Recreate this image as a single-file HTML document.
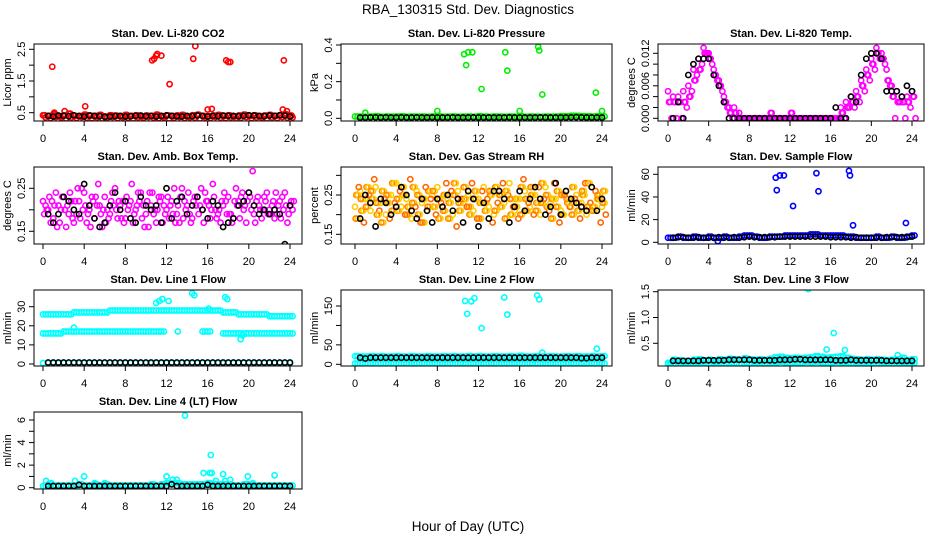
<!DOCTYPE html>
<html><head><meta charset="utf-8"><style>
html,body{margin:0;padding:0;background:#fff;}
svg{display:block;font-family:"Liberation Sans",sans-serif;}
</style></head><body>
<svg id="chart" width="936" height="540" viewBox="0 0 936 540" xmlns="http://www.w3.org/2000/svg">
<text x="468" y="14" font-size="13.5" text-anchor="middle">RBA_130315  Std. Dev. Diagnostics</text>
<text x="468" y="531" font-size="13.5" text-anchor="middle">Hour of Day (UTC)</text>
</svg>
<script>
// ---- time grids (hours) ----
const T49 = [0,0.5,1,1.5,2,2.5,3,3.5,4,4.5,5,5.5,6,6.5,7,7.5,8,8.5,9,9.5,10,10.5,11,11.5,12,12.5,13,13.5,14,14.5,15,15.5,16,16.5,17,17.5,18,18.5,19,19.5,20,20.5,21,21.5,22,22.5,23,23.5,24];
const T48 = [0.5,1,1.5,2,2.5,3,3.5,4,4.5,5,5.5,6,6.5,7,7.5,8,8.5,9,9.5,10,10.5,11,11.5,12,12.5,13,13.5,14,14.5,15,15.5,16,16.5,17,17.5,18,18.5,19,19.5,20,20.5,21,21.5,22,22.5,23,23.5,24];
const xTicks = [0,4,8,12,16,20,24];

// ---- CO2 ----
const co2A = [0.42,0.40,0.45,0.38,0.42,0.47,0.40,0.39,0.44,0.41,0.40,0.43,0.38,0.42,0.41,0.39,0.43,0.40,0.42,0.38,0.41,0.40,0.44,0.39,0.42,0.40,0.41,0.43,0.38,0.42,0.44,0.40,0.39,0.41,0.43,0.40,0.42,0.38,0.41,0.44,0.40,0.42,0.39,0.41,0.43,0.40,0.42,0.45,0.41];
const co2B = [0.35,0.33,0.36,0.34,0.32,0.35,0.33,0.36,0.34,0.33,0.35,0.32,0.34,0.36,0.33,0.35,0.34,0.32,0.35,0.33,0.36,0.34,0.33,0.35,0.32,0.34,0.36,0.33,0.35,0.34,0.32,0.35,0.33,0.36,0.34,0.33,0.35,0.32,0.34,0.36,0.33,0.35,0.34,0.32,0.35,0.33,0.36,0.34,0.35];
const co2OutT = [0.9,1.1,2.1,4.1,10.6,10.8,11.0,11.1,11.5,12.3,14.6,14.8,16.0,16.4,17.8,18.0,18.2,23.3,23.4,23.7];
const co2OutV = [1.95,0.5,0.55,0.7,2.15,2.2,2.3,2.35,2.3,1.4,2.2,2.6,0.6,0.62,2.15,2.1,2.1,0.6,2.15,0.55];
const co2K = [0.40,0.38,0.41,0.40,0.39,0.42,0.40,0.38,0.41,0.40,0.39,0.37,0.38,0.39,0.40,0.38,0.39,0.40,0.41,0.39,0.40,0.38,0.40,0.41,0.40,0.39,0.38,0.40,0.39,0.41,0.40,0.38,0.40,0.39,0.41,0.40,0.40,0.39,0.40,0.42,0.41,0.40,0.39,0.41,0.40,0.42,0.41,0.38];

// ---- Pressure ----
const presA = [0.01,0.01,0.008,0.01,0.012,0.008,0.01,0.009,0.01,0.011,0.008,0.01,0.009,0.01,0.008,0.01,0.012,0.008,0.009,0.01,0.008,0.009,0.01,0.008,0.012,0.009,0.008,0.01,0.009,0.008,0.01,0.009,0.011,0.008,0.01,0.009,0.008,0.01,0.009,0.01,0.012,0.011,0.014,0.013,0.012,0.011,0.01,0.012,0.01];
const presOutT = [1.0,8.0,10.6,10.8,11.0,11.4,12.3,14.6,14.8,16.0,17.8,17.9,18.2,23.4,24.0];
const presOutV = [0.03,0.04,0.35,0.29,0.36,0.36,0.16,0.36,0.26,0.04,0.39,0.37,0.13,0.14,0.04];
const presK = [0.004,0.004,0.005,0.005,0.004,0.005,0.004,0.004,0.005,0.004,0.004,0.005,0.004,0.004,0.005,0.004,0.004,0.004,0.005,0.004,0.004,0.004,0.005,0.004,0.004,0.004,0.004,0.004,0.004,0.005,0.004,0.004,0.004,0.004,0.004,0.005,0.004,0.004,0.004,0.004,0.004,0.005,0.006,0.005,0.004,0.004,0.004,0.004];

// ---- Li-820 Temp ----
const tmpA = [0.005,0.004,0.004,0.005,0.006,0.009,0.011,0.013,0.012,0.009,0.007,0.004,0.002,0.002,0.001,0,0,0,0,0,0,0,0,0,0,0,0,0,0,0,0,0,0,0,0.002,0.003,0.004,0.005,0.007,0.009,0.011,0.013,0.012,0.009,0.006,0.005,0.004,0.004,0.005];
const tmpB = [0.003,0.003,0.003,0.003,0.004,0.007,0.009,0.012,0.011,0.008,0.006,0.003,0.001,0.001,0,0,0,0,0,0,0.001,0,0,0,0.001,0,0,0,0,0,0,0,0,0,0.001,0.002,0.003,0.004,0.006,0.008,0.010,0.012,0.011,0.007,0.004,0.003,0.003,0.003,0.004];
const tmpC = [0,0,0,0.002,0.005,0.008,0.010,0.012,0.010,0.007,0.005,0.002,0,0,0,0,0,0,0,0,0,0,0,0,0,0,0,0,0,0,0,0,0,0,0,0.002,0.002,0.003,0.005,0.007,0.009,0.011,0.010,0.006,0,0.003,0,0.002,0];
const tmpK = [0,0.003,0,0.008,0.010,0.011,0.011,0.011,0.008,0.006,0.003,0,0,0,0,0,0,0,0,0,0,0,0,0,0,0,0,0,0,0,0,0,0.002,0,0,0.004,0.003,0.008,0.011,0.012,0.012,0.011,0.005,0.005,0.005,0.004,0.006,0.005];

// ---- Amb Box Temp ----
const amb1 = [0.22,0.20,0.18,0.21,0.23,0.19,0.17,0.22,0.24,0.20,0.18,0.21,0.23,0.19,0.25,0.21,0.18,0.22,0.20,0.24,0.19,0.21,0.17,0.23,0.20,0.22,0.19,0.25,0.21,0.18,0.23,0.20,0.22,0.26,0.19,0.21,0.23,0.18,0.22,0.20,0.24,0.19,0.21,0.23,0.20,0.18,0.22,0.24,0.21];
const amb2 = [0.19,0.23,0.21,0.17,0.20,0.24,0.22,0.18,0.21,0.16,0.23,0.19,0.17,0.22,0.20,0.18,0.23,0.26,0.21,0.18,0.22,0.24,0.20,0.17,0.23,0.19,0.21,0.18,0.24,0.22,0.19,0.17,0.21,0.23,0.20,0.24,0.19,0.22,0.18,0.21,0.23,0.17,0.20,0.22,0.19,0.24,0.18,0.21,0.22];
const amb3 = [0.21,0.17,0.24,0.20,0.16,0.22,0.19,0.25,0.17,0.23,0.21,0.16,0.20,0.24,0.18,0.22,0.20,0.17,0.24,0.21,0.16,0.19,0.23,0.21,0.18,0.25,0.17,0.22,0.19,0.23,0.21,0.24,0.18,0.20,0.17,0.22,0.19,0.25,0.23,0.17,0.20,0.22,0.18,0.24,0.21,0.19,0.23,0.17,0.20];
const amb4 = [0.20,0.22,0.16,0.23,0.21,0.18,0.25,0.20,0.19,0.22,0.26,0.20,0.18,0.21,0.22,0.17,0.21,0.19,0.22,0.16,0.24,0.20,0.22,0.19,0.21,0.17,0.23,0.20,0.17,0.21,0.25,0.22,0.20,0.18,0.22,0.19,0.17,0.21,0.24,0.22,0.29,0.23,0.20,0.19,0.22,0.21,0.20,0.19,0.22];
const ambK = [0.19,0.17,0.19,0.23,0.22,0.20,0.19,0.26,0.21,0.18,0.16,0.17,0.21,0.24,0.20,0.22,0.18,0.17,0.23,0.21,0.20,0.21,0.17,0.25,0.18,0.22,0.23,0.19,0.21,0.23,0.20,0.18,0.22,0.21,0.16,0.17,0.18,0.21,0.22,0.24,0.21,0.19,0.20,0.19,0.20,0.19,0.12,0.21];

// ---- Gas Stream RH ----
const rh1 = [0.22,0.26,0.24,0.21,0.27,0.23,0.20,0.25,0.28,0.22,0.24,0.19,0.26,0.23,0.21,0.25,0.27,0.22,0.24,0.20,0.26,0.23,0.25,0.21,0.24,0.27,0.22,0.20,0.25,0.23,0.28,0.21,0.24,0.26,0.22,0.25,0.20,0.27,0.23,0.24,0.21,0.26,0.22,0.25,0.23,0.20,0.27,0.24,0.22];
const rh2 = [0.25,0.21,0.27,0.24,0.20,0.26,0.23,0.28,0.21,0.25,0.22,0.27,0.20,0.24,0.26,0.22,0.19,0.25,0.23,0.28,0.21,0.24,0.20,0.26,0.23,0.21,0.25,0.27,0.22,0.26,0.20,0.24,0.27,0.21,0.25,0.23,0.28,0.22,0.24,0.26,0.20,0.23,0.27,0.21,0.25,0.28,0.22,0.24,0.26];
const rh3 = [0.19,0.24,0.22,0.26,0.23,0.18,0.25,0.21,0.24,0.27,0.20,0.23,0.25,0.18,0.22,0.26,0.24,0.21,0.19,0.25,0.23,0.27,0.22,0.24,0.19,0.23,0.26,0.21,0.25,0.19,0.24,0.22,0.20,0.24,0.27,0.21,0.23,0.25,0.19,0.22,0.25,0.24,0.20,0.23,0.26,0.22,0.21,0.25,0.23];
const rh4 = [0.27,0.18,0.25,0.29,0.21,0.24,0.19,0.23,0.26,0.20,0.29,0.22,0.18,0.27,0.24,0.20,0.23,0.28,0.26,0.17,0.24,0.22,0.28,0.19,0.26,0.24,0.18,0.23,0.28,0.25,0.22,0.19,0.29,0.23,0.20,0.27,0.24,0.21,0.28,0.18,0.25,0.22,0.24,0.19,0.28,0.23,0.26,0.18,0.20];
const rhK = [0.19,0.25,0.23,0.17,0.24,0.23,0.20,0.22,0.27,0.25,0.21,0.19,0.24,0.21,0.18,0.24,0.22,0.25,0.21,0.24,0.18,0.26,0.24,0.17,0.23,0.19,0.26,0.26,0.24,0.18,0.22,0.26,0.21,0.24,0.27,0.24,0.20,0.22,0.28,0.20,0.26,0.24,0.23,0.22,0.21,0.27,0.21,0.24];

// ---- Sample Flow ----
const sampA = [4,4,5,4,4,5,4,4,5,4,4,5,4,4,5,6,6,5,4,4,5,5,5,6,6,6,6,6,7,7,6,6,6,6,6,5,5,4,4,4,4,5,4,4,5,4,4,5,6];
const sampOutT = [4.9,10.6,10.7,11.0,11.4,12.3,14.6,14.8,17.8,17.9,18.2,23.4];
const sampOutV = [1,57,46,59,59,32,61,45,63,59,15,17];
const sampK = [4,4.5,4.5,4,4,4.5,4,4,4,4.5,4,4,4.5,4,4.5,5,4.5,4.5,4.5,4.5,4.5,5,5,5,5,5,5,5,5,5,5,4.5,4.5,4.5,4.5,4,4.5,4,4,4,4,4,4.5,4.5,4.5,4.5,4.5,5];

// ---- Line 1 Flow ----
const l1Top = [26,26,26,26,26,26,27,27,27,27,27,27,27,28,28,28,28,28,28,28,28,28,28,28,28,28,28,28,28,28,28,28,28,28,28,27,27,27,26,26,26,26,26,26,25,25,25,25,25];
const l1Mid = [16,16,16,16,17,17,17,17,17,17,17,17,17,17,17,17,17,17,17,17,17,17,17,17,null,null,null,null,null,null,null,17,17,null,null,16,16,16,16,16,16,16,16,16,16,16,16,16,16];
const l1Bot = [0.5,0.5,0.5,0.5,0.5,0.5,0.5,0.5,0.5,0.5,0.5,0.5,0.5,0.5,0.5,0.5,0.5,0.5,0.5,0.5,0.5,0.5,0.5,0.5,0.5,0.5,0.5,0.5,0.5,0.5,0.5,0.5,0.5,0.5,0.5,0.5,0.5,0.5,0.5,0.5,0.5,0.5,0.5,0.5,0.5,0.5,0.5,0.5,0.5];
const l1OutT = [3,11,11.3,11.6,12.2,13.1,14.5,14.7,16.1,17.7,17.9,19.2,19.4];
const l1OutV = [19,32,33,34,33,17,37,36,29,35,34,13,15];
const l1K = [0.8,0.8,0.8,0.8,0.8,0.8,0.8,0.8,0.8,0.8,0.8,0.8,0.8,0.8,0.8,0.8,0.8,0.8,0.8,0.8,0.8,0.8,0.8,0.8,0.8,0.8,0.8,0.8,0.8,0.8,0.8,0.8,0.8,0.8,0.8,0.8,0.8,0.8,0.8,0.8,0.8,0.8,0.8,0.8,0.8,0.8,0.8,0.8];

// ---- Line 2 Flow ----
const l2Top = [21,20,20,21,20,21,20,20,21,20,20,21,20,20,21,20,20,21,20,21,20,20,21,20,21,20,20,21,20,20,21,20,22,20,20,21,20,20,21,20,20,21,20,21,20,20,21,20,21];
const l2Bot = [2,2,2,2,2,2,2,2,2,2,2,2,2,2,2,2,2,2,2,2,2,2,2,2,2,2,2,2,2,2,2,2,2,2,2,2,2,2,2,2,2,2,2,2,2,2,2,2,2];
const l2OutT = [10.7,10.9,11.3,11.6,12.3,14.5,14.8,17.4,17.7,17.9,18.2,23.5];
const l2OutV = [163,130,162,170,93,172,128,12,177,167,30,40];
const l2K = [17,15,17,17,17,17,17,17,17,17,17,17,17,17,17,17,17,17,17,17,17,17,17,17,17,17,17,17,17,17,17,17,17,17,17,17,17,17,17,17,17,17,17,16,16,17,17,17];

// ---- Line 3 Flow ----
const l3A = [0.12,0.18,0.17,0.16,0.15,0.18,0.19,0.17,0.18,0.16,0.19,0.18,0.20,0.19,0.18,0.21,0.19,0.18,0.19,0.18,0.20,0.23,0.24,0.22,0.21,0.22,0.21,0.22,0.23,0.25,0.24,0.22,0.23,0.24,0.25,0.22,0.20,0.19,0.18,0.19,0.18,0.19,0.18,0.17,0.18,0.19,0.22,0.17,0.19];
const l3B = [0.09,0.10,0.11,0.12,0.10,0.11,0.12,0.11,0.10,0.12,0.11,0.10,0.12,0.11,0.10,0.12,0.11,0.12,0.11,0.10,0.12,0.13,0.14,0.13,0.12,0.13,0.12,0.14,0.13,0.14,0.13,0.12,0.13,0.14,0.13,0.12,0.11,0.12,0.11,0.12,0.11,0.10,0.12,0.11,0.10,0.11,0.12,0.11,0.12];
const l3OutT = [13.8,15.6,16.3,17.4,22.6];
const l3OutV = [1.55,0.38,0.7,0.37,0.27];
const l3K = [0.16,0.16,0.16,0.16,0.16,0.16,0.17,0.17,0.17,0.17,0.17,0.18,0.18,0.18,0.18,0.18,0.17,0.17,0.17,0.17,0.17,0.18,0.18,0.18,0.19,0.19,0.18,0.18,0.18,0.18,0.18,0.18,0.17,0.17,0.17,0.18,0.17,0.17,0.17,0.17,0.17,0.17,0.16,0.16,0.16,0.16,0.16,0.16];

// ---- Line 4 Flow ----
const l4A = [0.15,0.3,0.2,0.2,0.2,0.2,0.2,0.3,0.2,0.2,0.3,0.2,0.3,0.2,0.2,0.2,0.2,0.2,0.2,0.2,0.2,0.3,0.2,0.3,0.4,0.4,0.4,0.3,0.3,0.3,0.3,0.3,0.4,0.3,0.3,0.3,0.3,0.2,0.2,0.3,0.3,0.2,0.2,0.2,0.2,0.2,0.2,0.2,0.2];
const l4OutT = [0.3,0.8,3.1,4.0,5.0,6.0,12.0,12.6,13.0,13.8,15.6,16.2,16.3,16.4,16.8,17.5,17.7,18.2,19.9,20.4,22.5];
const l4OutV = [0.6,0.4,0.6,1.0,0.4,0.4,1.0,0.7,0.7,6.4,1.3,1.3,2.9,1.3,0.6,1.2,0.6,0.7,1.0,0.4,1.1];
const l4K = [0.15,0.15,0.15,0.15,0.15,0.15,0.25,0.15,0.15,0.15,0.15,0.15,0.15,0.15,0.15,0.15,0.15,0.15,0.15,0.15,0.15,0.15,0.15,0.15,0.3,0.15,0.15,0.15,0.15,0.15,0.15,0.25,0.15,0.15,0.15,0.15,0.15,0.15,0.15,0.15,0.15,0.15,0.15,0.15,0.15,0.15,0.15,0.15];

const NS = "http://www.w3.org/2000/svg";
const svg = document.getElementById('chart');
function mk(tag, attrs, parent){
  const e = document.createElementNS(NS, tag);
  for (const k in attrs) e.setAttribute(k, attrs[k]);
  (parent||svg).appendChild(e);
  return e;
}
const COLS = [{l:34,r:302,x0:43,x24:290},{l:341,r:612,x0:355,x24:602},{l:658,r:924,x0:668,x24:912}];
const ROWS = [{t:44,b:121},{t:167,b:244},{t:290,b:366},{t:412,b:489}];

function panel(name, title, ylab, col, row, v1, p1, v2, p2, ticks, labels){
  const C = COLS[col], R = ROWS[row];
  const g = mk('g', {});
  
  
  const sx = t => C.x0 + (t / 24) * (C.x24 - C.x0);
  const sy = v => p1 + (v - v1) * (p2 - p1) / (v2 - v1);
  const tt = mk('text', {x:(C.l+C.r)/2, y:R.t-7, 'font-size':11, 'font-weight':'bold', 'text-anchor':'middle'}, g);
  tt.textContent = title;
  
  
  const yl = mk('text', {x:0, y:0, 'font-size':11, 'text-anchor':'middle', transform:`translate(${C.l-23},${(R.t+R.b)/2}) rotate(-90)`}, g);
  yl.textContent = ylab;
  
  
  // x axis
  const xa = mk('g', {}, g);
  
  
  mk('line', {x1:sx(0), x2:sx(24), y1:R.b, y2:R.b, stroke:'#000'}, xa);
  xTicks.forEach(t => {
    mk('line', {x1:sx(t), x2:sx(t), y1:R.b, y2:R.b+5, stroke:'#000'}, xa);
    const lb = mk('text', {x:sx(t), y:R.b+21, 'font-size':11, 'text-anchor':'middle'}, xa);
    lb.textContent = t;
    
    
  });
  // y axis
  const ya = mk('g', {}, g);
  
  
  mk('line', {x1:C.l, x2:C.l, y1:sy(ticks[0]), y2:sy(ticks[ticks.length-1]), stroke:'#000'}, ya);
  ticks.forEach((v, i) => {
    mk('line', {x1:C.l-5, x2:C.l, y1:sy(v), y2:sy(v), stroke:'#000'}, ya);
    if (labels[i]) {
      const lb = mk('text', {x:0, y:0, 'font-size':11, 'text-anchor':'middle', transform:`translate(${C.l-9},${sy(v)}) rotate(-90)`}, ya);
      lb.textContent = labels[i];
      
      
    }
  });
  const cid = 'clip-' + name;
  const cp = mk('clipPath', {id:cid}, g);
  mk('rect', {x:C.l, y:R.t, width:C.r-C.l, height:R.b-R.t}, cp);
  const pts = mk('g', {'clip-path':`url(#${cid})`}, g);
  
  
  const box = mk('rect', {x:C.l, y:R.t, width:C.r-C.l, height:R.b-R.t, fill:'none', stroke:'#000'}, g);
  
  
  return {sx, sy, pts};
}
function series(P, ts, vs, color, off, sname){
  vs.forEach((v, i) => {
    if (v === null || v === undefined) return;
    const c = mk('circle', {cx:P.sx(ts[i] + off), cy:P.sy(v), r:2.6, fill:'none', stroke:color, 'stroke-width':1.6}, P.pts);
    
    
  });
}

let P;
P = panel('co2', 'Stan. Dev. Li-820 CO2', 'Licor ppm', 0, 0, 2.5, 49.3, 0.5, 112.7, [0.5,1,1.5,2,2.5], ['0.5','','1.5','','2.5']);
series(P, T49, co2A, '#ff0000', 0, 'co2-point'); series(P, T49, co2B, '#ff0000', 0.25, 'co2-point');
series(P, T49, co2A, '#ff0000', 0.15, 'co2-point');
series(P, co2OutT, co2OutV, '#ff0000', 0, 'co2-outlier');
series(P, T48, co2K, '#000', 0, 'co2-mean-point');

P = panel('pressure', 'Stan. Dev. Li-820 Pressure', 'kPa', 1, 0, 0.4, 45, 0, 118.3, [0,0.1,0.2,0.3,0.4], ['0.0','','0.2','','0.4']);
series(P, T49, presA, '#00ee00', 0, 'pressure-point'); series(P, T49, presA, '#00ee00', 0.25, 'pressure-point');
series(P, presOutT, presOutV, '#00ee00', 0, 'pressure-outlier');
series(P, T48, presK, '#000', 0, 'pressure-mean-point');

P = panel('li820-temp', 'Stan. Dev. Li-820 Temp.', 'degrees C', 2, 0, 0.012, 53.3, 0, 118.3, [0,0.002,0.004,0.006,0.008,0.010,0.012], ['0.000','','','0.006','','','0.012']);
series(P, T49, tmpA, '#ff00ff', 0, 'temp-point'); series(P, T49, tmpB, '#ff00ff', 0.2, 'temp-point');
series(P, T49, tmpC, '#ff00ff', 0.35, 'temp-point'); series(P, T49, tmpB, '#ff00ff', 0.1, 'temp-point');
series(P, T48, tmpK, '#000', 0, 'temp-mean-point');

P = panel('amb-box', 'Stan. Dev. Amb. Box Temp.', 'degrees C', 0, 1, 0.25, 188.3, 0.15, 231.3, [0.15,0.2,0.25], ['0.15','','0.25']);
series(P, T49, amb1, '#ff00ff', 0, 'amb-point'); series(P, T49, amb2, '#ff00ff', 0.12, 'amb-point');
series(P, T49, amb3, '#ff00ff', 0.25, 'amb-point'); series(P, T49, amb4, '#ff00ff', 0.37, 'amb-point');
series(P, T48, ambK, '#000', 0, 'amb-mean-point');

P = panel('rh', 'Stan. Dev. Gas Stream RH', 'percent', 1, 1, 0.25, 195, 0.15, 234.3, [0.15,0.2,0.25,0.3], ['0.15','','0.25','']);
series(P, T49, rh1, '#ffcc00', 0, 'rh-point'); series(P, T49, rh2, '#ff8800', 0.12, 'rh-point');
series(P, T49, rh3, '#ffcc00', 0.25, 'rh-point'); series(P, T49, rh4, '#ff6600', 0.37, 'rh-point');
series(P, T49, rh2, '#ffcc00', 0.3, 'rh-point'); series(P, T49, rh3, '#ff8800', 0.06, 'rh-point');
series(P, T48, rhK, '#000', 0, 'rh-mean-point');

P = panel('sample-flow', 'Stan. Dev. Sample Flow', 'ml/min', 2, 1, 60, 174.3, 0, 242.3, [0,20,40,60], ['0','20','40','60']);
series(P, T49, sampA, '#0000ff', 0, 'sample-point'); series(P, T49, sampA, '#0000ff', 0.25, 'sample-point');
series(P, sampOutT, sampOutV, '#0000ff', 0, 'sample-outlier');
series(P, T48, sampK, '#000', 0, 'sample-mean-point');

P = panel('line1', 'Stan. Dev. Line 1 Flow', 'ml/min', 0, 2, 30, 306.7, 0, 364, [0,10,20,30], ['0','10','20','30']);
series(P, T49, l1Top, '#00ffff', 0, 'line1-point'); series(P, T49, l1Top, '#00ffff', 0.25, 'line1-point');
series(P, T49, l1Mid, '#00ffff', 0, 'line1-point'); series(P, T49, l1Mid, '#00ffff', 0.25, 'line1-point');
series(P, T49, l1Bot, '#00ffff', 0, 'line1-point');
series(P, l1OutT, l1OutV, '#00ffff', 0, 'line1-outlier');
series(P, T48, l1K, '#000', 0, 'line1-mean-point');

P = panel('line2', 'Stan. Dev. Line 2 Flow', 'ml/min', 1, 2, 150, 306, 0, 364.3, [0,50,100,150], ['0','50','','150']);
series(P, T49, l2Top, '#00ffff', 0, 'line2-point'); series(P, T49, l2Top, '#00ffff', 0.25, 'line2-point');
series(P, T49, l2Bot, '#00ffff', 0, 'line2-point'); series(P, T49, l2Bot, '#00ffff', 0.25, 'line2-point');
series(P, l2OutT, l2OutV, '#00ffff', 0, 'line2-outlier');
series(P, T48, l2K, '#000', 0, 'line2-mean-point');

P = panel('line3', 'Stan. Dev. Line 3 Flow', 'ml/min', 2, 2, 1.5, 291.7, 0.5, 343.3, [0.5,1,1.5], ['0.5','1.0','1.5']);
series(P, T49, l3A, '#00ffff', 0, 'line3-point'); series(P, T49, l3B, '#00ffff', 0.25, 'line3-point');
series(P, T49, l3B, '#00ffff', 0, 'line3-point'); series(P, T49, l3A, '#00ffff', 0.25, 'line3-point');
series(P, l3OutT, l3OutV, '#00ffff', 0, 'line3-outlier');
series(P, T48, l3K, '#000', 0, 'line3-mean-point');

P = panel('line4', 'Stan. Dev. Line 4 (LT) Flow', 'ml/min', 0, 3, 6, 420, 0, 487.7, [0,1,2,3,4,5,6], ['0','','2','','4','','6']);
series(P, T49, l4A, '#00ffff', 0, 'line4-point'); series(P, T49, l4A, '#00ffff', 0.25, 'line4-point');
series(P, l4OutT, l4OutV, '#00ffff', 0, 'line4-outlier');
series(P, T48, l4K, '#000', 0, 'line4-mean-point');
</script>
</body></html>
